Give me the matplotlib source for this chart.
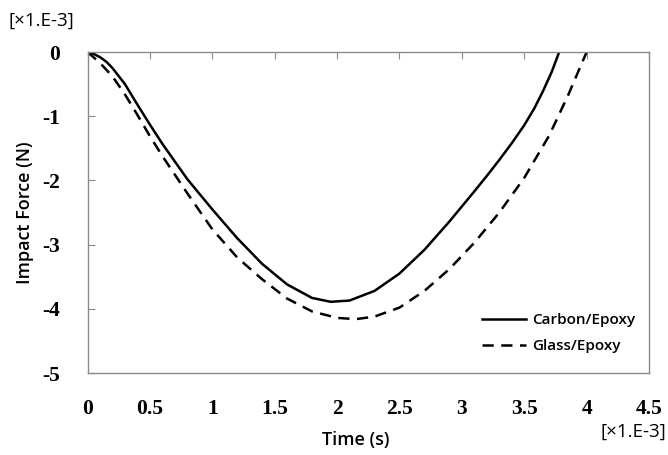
import numpy as np
import matplotlib
matplotlib.use("Agg")
import matplotlib.pyplot as plt

# values (time in 1e-3 s, force in 1e-3 N)
carbon_t = [0.0, 0.05, 0.1, 0.15, 0.2, 0.3, 0.4, 0.5, 0.6, 0.8, 1.0, 1.2, 1.4,
            1.6, 1.8, 1.95, 2.1, 2.3, 2.5, 2.7, 2.9, 3.1, 3.2, 3.3, 3.4, 3.5,
            3.58, 3.65, 3.72, 3.78]
carbon_f = [0.0, -0.03, -0.08, -0.15, -0.25, -0.5, -0.82, -1.13, -1.43, -1.98,
            -2.45, -2.9, -3.3, -3.62, -3.83, -3.89, -3.87, -3.72, -3.45, -3.08,
            -2.64, -2.17, -1.93, -1.68, -1.42, -1.14, -0.88, -0.61, -0.31, 0.0]

glass_t = [0.0, 0.1, 0.2, 0.3, 0.4, 0.5, 0.6, 0.8, 1.0, 1.2, 1.4, 1.6, 1.8,
           2.0, 2.15, 2.3, 2.5, 2.7, 2.9, 3.1, 3.3, 3.5, 3.7, 3.85, 4.0]
glass_f = [0.0, -0.17, -0.38, -0.66, -0.98, -1.31, -1.62, -2.2, -2.76, -3.2,
           -3.54, -3.84, -4.04, -4.14, -4.16, -4.12, -3.98, -3.72, -3.38, -2.97,
           -2.50, -1.96, -1.30, -0.68, 0.0]

xticks = [0, 0.5, 1, 1.5, 2, 2.5, 3, 3.5, 4, 4.5]
xtick_labels = ["0", "0.5", "1", "1.5", "2", "2.5", "3", "3.5", "4", "4.5"]
yticks = [0, -1, -2, -3, -4, -5]
ytick_labels = ["0", "-1", "-2", "-3", "-4", "-5"]

fig = plt.figure(figsize=(6.68, 4.55), dpi=100)
ax = fig.add_axes([0.131, 0.18, 0.8406, 0.7057])

ax.plot(carbon_t, carbon_f, color="black", lw=1.8, solid_joinstyle="round",
        label="Carbon/Epoxy")
ax.plot(glass_t, glass_f, color="black", lw=1.8, dashes=(4.5, 3),
        dash_joinstyle="round", label="Glass/Epoxy")

ax.set_xlim(0, 4.5)
ax.set_ylim(-5, 0)
ax.set_xticks(xticks)
ax.set_xticklabels(xtick_labels)
ax.set_yticks(yticks)
ax.set_yticklabels(ytick_labels)

for s in ax.spines.values():
    s.set_color("#8a8a8a")
    s.set_linewidth(1.0)

ax.tick_params(axis="x", direction="in", top=True, bottom=False, labeltop=False,
               labelbottom=True, length=5, color="#8a8a8a", pad=19)
ax.tick_params(axis="y", direction="in", length=5, color="#8a8a8a", pad=20)
for lab in ax.get_xticklabels() + ax.get_yticklabels():
    lab.set_fontfamily("Liberation Serif")
    lab.set_fontweight("bold")
    lab.set_fontsize(15.5)

sans = "Open Sans"
ax.set_ylabel("Impact Force (N)", family=sans, fontsize=13, weight=600, labelpad=6)
fig.text(0.533, 0.032, "Time (s)", family=sans, fontsize=13, weight=600,
         ha="center", va="center")
fig.text(0.012, 0.955, "[×1.E-3]", family=sans, fontsize=13.5, ha="left", va="center")
fig.text(0.997, 0.05, "[×1.E-3]", family=sans, fontsize=13.5, ha="right", va="center")

leg = ax.legend(loc="lower right", frameon=False,
                prop={"family": sans, "size": 11, "weight": 600},
                handlelength=2.9, handletextpad=0.4, labelspacing=0.75,
                bbox_to_anchor=(1.0, 0.02))

fig.savefig("out.png", dpi=100)
